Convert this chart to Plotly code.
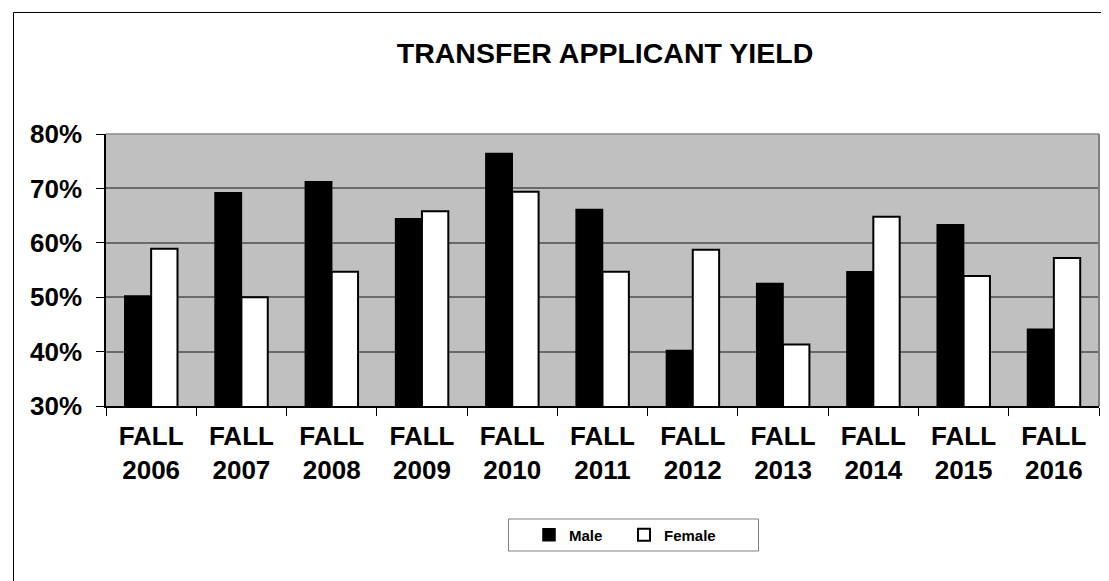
import plotly.graph_objects as go

categories = ["FALL<br>2006", "FALL<br>2007", "FALL<br>2008", "FALL<br>2009", "FALL<br>2010",
              "FALL<br>2011", "FALL<br>2012", "FALL<br>2013", "FALL<br>2014", "FALL<br>2015",
              "FALL<br>2016"]
male = [50.2, 69.2, 71.2, 64.4, 76.4, 66.1, 40.2, 52.5, 54.7, 63.3, 44.1]
female = [58.9, 50.0, 54.7, 65.8, 69.4, 54.7, 58.7, 41.3, 64.8, 53.9, 57.2]
y_ticks = [30, 40, 50, 60, 70, 80]
y_tick_labels = ["30%", "40%", "50%", "60%", "70%", "80%"]
title_text = "TRANSFER APPLICANT YIELD"

FONT = "Liberation Sans, Arial, sans-serif"

fig = go.Figure()
fig.add_trace(go.Bar(x=categories, y=male, name="Male",
                     marker=dict(color="black", line=dict(color="black", width=1.5))))
fig.add_trace(go.Bar(x=categories, y=female, name="Female",
                     marker=dict(color="white", line=dict(color="black", width=2))))

OFF = 8  # page body margin
W, H = 1109 - OFF, 581 - OFF
L, R, T, B = 106 - OFF, 1099 - OFF, 134 - OFF, 406 - OFF
pw, ph = R - L, B - T


def px_x(p):
    return (p - OFF - L) / pw


def px_y(p):
    return (B - (p - OFF)) / ph


fig.update_layout(
    width=W, height=H,
    margin=dict(l=L, r=W - R, t=T, b=H - B, pad=0, autoexpand=False),
    paper_bgcolor="white",
    plot_bgcolor="#C0C0C0",
    barmode="group",
    bargap=0.416,
    bargroupgap=0,
    font=dict(family=FONT, color="black"),
    title=dict(text=title_text, x=(605 - OFF) / W, xanchor="center", xref="container",
               y=1 - (53 - OFF) / H, yanchor="middle", yref="container",
               font=dict(family=FONT, size=28.5, weight="bold", color="black")),
    xaxis=dict(
        type="category",
        tickson="boundaries",
        ticks="outside", ticklen=8, tickcolor="black", tickwidth=1,
        showline=True, linecolor="black", linewidth=1.5,
        showgrid=False,
        tickfont=dict(family=FONT, size=26, weight="bold", color="black"),
        ticklabelstandoff=6,
    ),
    yaxis=dict(
        range=[30, 80],
        tickmode="array",
        tickvals=y_ticks,
        ticktext=y_tick_labels,
        ticks="outside", ticklen=8, tickcolor="black", tickwidth=1,
        showline=True, linecolor="black", linewidth=1.5,
        showgrid=True, gridcolor="#6a6a6a", gridwidth=1.5,
        zeroline=False,
        tickfont=dict(family=FONT, size=26, weight="bold", color="black"),
        ticklabelstandoff=9,
    ),
    legend=dict(
        orientation="h",
        x=px_x(624), y=px_y(535), xanchor="center", yanchor="middle",
        borderwidth=0, bgcolor="rgba(0,0,0,0)",
        font=dict(family=FONT, size=15, weight="bold", color="black"),
        entrywidth=50,
    ),
    shapes=[
        # outer chart border (left & top visible)
        dict(type="rect", xref="paper", yref="paper",
             x0=px_x(13.5), x1=px_x(1140), y0=px_y(12.5), y1=px_y(640),
             line=dict(color="black", width=1), fillcolor="rgba(0,0,0,0)", layer="above"),
        # plot area top and right border
        dict(type="line", xref="paper", yref="paper", x0=0, x1=1, y0=1, y1=1,
             line=dict(color="#8a8a8a", width=1.5), layer="above"),
        dict(type="line", xref="paper", yref="paper", x0=1, x1=1, y0=0, y1=1,
             line=dict(color="#808080", width=2), layer="above"),
        # legend box
        dict(type="rect", xref="paper", yref="paper",
             x0=px_x(508.5), x1=px_x(758.5), y0=px_y(551), y1=px_y(519),
             line=dict(color="#808080", width=1), fillcolor="white", layer="above"),
    ],
)

fig.write_html("out.html")
